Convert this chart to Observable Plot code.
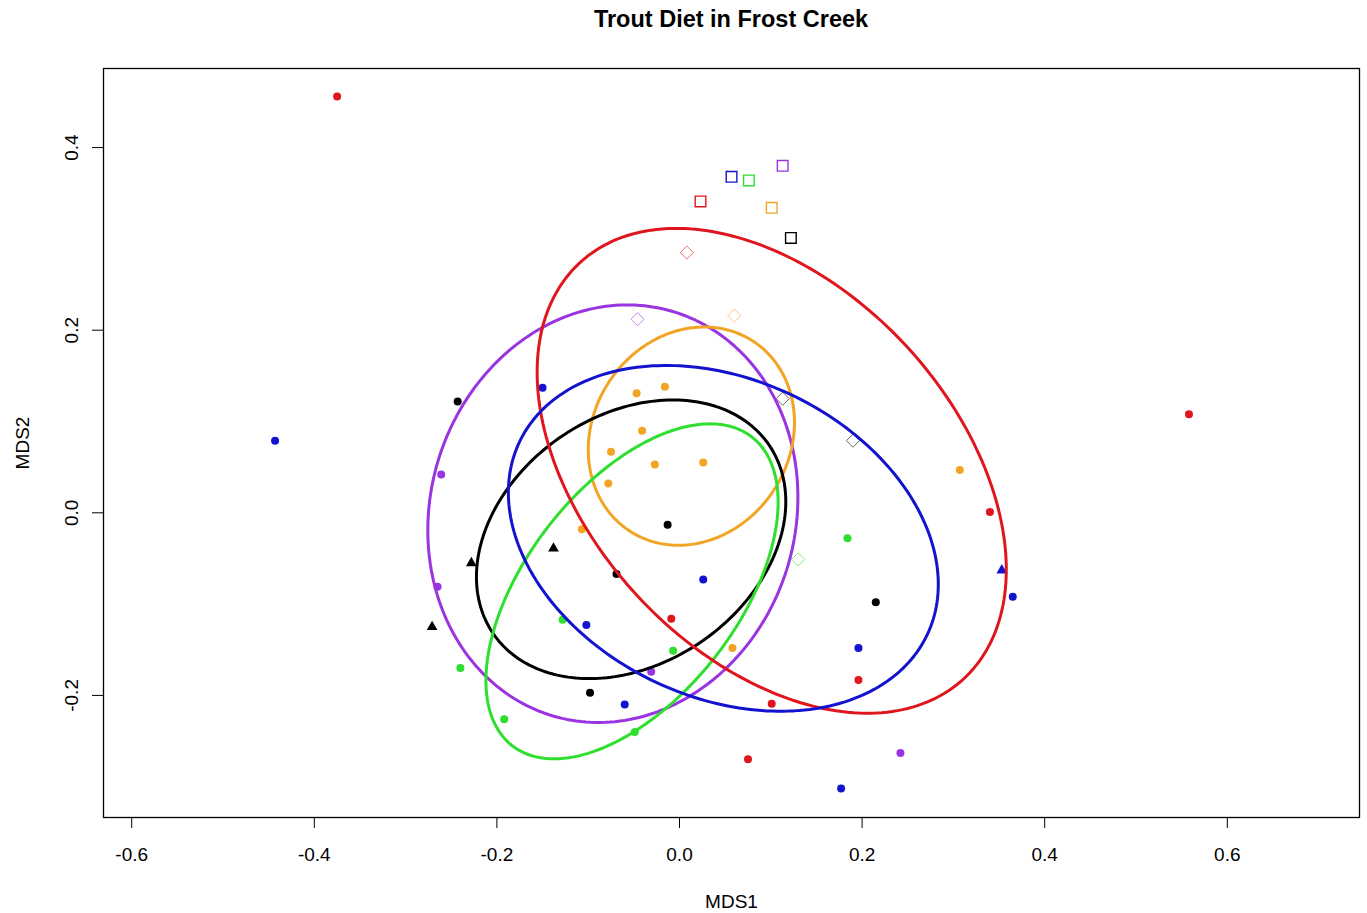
<!DOCTYPE html>
<html><head><meta charset="utf-8">
<script src="https://cdn.jsdelivr.net/npm/d3@7"></script>
<script src="https://cdn.jsdelivr.net/npm/@observablehq/plot@0.6"></script>
<style>
body{margin:0;background:#fff;}
#wrap{position:relative;width:1367px;height:913px;background:#fff;}
#title{position:absolute;left:103px;width:1256px;top:8px;text-align:center;font:bold 23.5px/1 "Liberation Sans",Arial,sans-serif;color:#000;}
</style></head><body>
<div id="wrap"><div id="chart"></div><div id="title">Trout Diet in Frost Creek</div></div>
<script>
const groupNames = ["G1","G2","G3","G4","G5","G6"];
const groupColors = ["#e0161e","#1212cf","#2edf2e","#9a34e0","#f2a424","#000000"];

const xTicks = [-0.6,-0.4,-0.2,0,0.2,0.4,0.6];
const xTickLabels = ["-0.6","-0.4","-0.2","0.0","0.2","0.4","0.6"];
const yTicks = [-0.2,0,0.2,0.4];
const yTickLabels = ["-0.2","0.0","0.2","0.4"];

// sample scores (filled symbols)
const sampleX = [
  -0.375, 0.558, 0.340, -0.009, 0.196, 0.101, 0.075,
  -0.443, -0.150, 0.026, -0.102, -0.060, 0.196, 0.365, 0.177, 0.353,
  0.184, -0.128, -0.007, -0.240, -0.192, -0.049,
  -0.261, -0.265, -0.031, 0.242,
  -0.016, -0.047, -0.041, -0.075, -0.027, 0.026, -0.078, -0.107, 0.058, 0.307,
  -0.243, -0.013, -0.069, 0.215, -0.098, -0.228, -0.138, -0.271
];
const sampleY = [
  0.456, 0.108, 0.001, -0.116, -0.183, -0.209, -0.270,
  0.079, 0.137, -0.073, -0.123, -0.210, -0.148, -0.092, -0.302, -0.063,
  -0.028, -0.117, -0.151, -0.170, -0.226, -0.240,
  0.042, -0.081, -0.174, -0.263,
  0.138, 0.131, 0.090, 0.067, 0.053, 0.055, 0.032, -0.018, -0.148, 0.047,
  0.122, -0.013, -0.067, -0.098, -0.197, -0.055, -0.039, -0.125
];
const sampleGroup = [
  "G1","G1","G1","G1","G1","G1","G1",
  "G2","G2","G2","G2","G2","G2","G2","G2","G2",
  "G3","G3","G3","G3","G3","G3",
  "G4","G4","G4","G4",
  "G5","G5","G5","G5","G5","G5","G5","G5","G5","G5",
  "G6","G6","G6","G6","G6","G6","G6","G6"
];
const sampleShape = [
  "circle","circle","circle","circle","circle","circle","circle",
  "circle","circle","circle","circle","circle","circle","circle","circle","triangle",
  "circle","circle","circle","circle","circle","circle",
  "circle","circle","circle","circle",
  "circle","circle","circle","circle","circle","circle","circle","circle","circle","circle",
  "circle","circle","circle","circle","circle","triangle","triangle","triangle"
];

// open squares
const squareX = [0.023, 0.057, 0.076, 0.113, 0.101, 0.122];
const squareY = [0.341, 0.368, 0.364, 0.380, 0.334, 0.301];
const squareGroup = ["G1","G2","G3","G4","G5","G6"];

// open diamonds
const diamondX = [0.008, -0.046, 0.060, 0.113, 0.190, 0.130];
const diamondY = [0.285, 0.212, 0.216, 0.125, 0.079, -0.051];
const diamondGroup = ["G1","G4","G5","G6","G6","G3"];

// ellipse parameters (centre, semi-axes, rotation in degrees)
const ellGroup = ["G4","G5","G6","G3","G1","G2"];
const ellCx = [-0.073, 0.013, -0.053, -0.052, 0.101, 0.048];
const ellCy = [-0.001, 0.084, -0.029, -0.086, 0.046, -0.028];
const ellA  = [0.231, 0.124, 0.183, 0.214, 0.310, 0.247];
const ellB  = [0.200, 0.108, 0.136, 0.116, 0.201, 0.174];
const ellAngle = [73.5, 57.2, 34.4, 52.2, -47.3, -25.2];

const samples = sampleX.map((x, i) => ({x, y: sampleY[i], group: sampleGroup[i], shape: sampleShape[i]}));
const squares = squareX.map((x, i) => ({x, y: squareY[i], group: squareGroup[i]}));
const diamonds = diamondX.map((x, i) => ({x, y: diamondY[i], group: diamondGroup[i]}));
const ellipsePts = [];
ellGroup.forEach((g, k) => {
  const phi = ellAngle[k] * Math.PI / 180;
  for (let j = 0; j < 240; j++) {
    const t = j / 240 * 2 * Math.PI;
    const ux = ellA[k] * Math.cos(t), uy = ellB[k] * Math.sin(t);
    ellipsePts.push({group: g, x: ellCx[k] + ux * Math.cos(phi) - uy * Math.sin(phi), y: ellCy[k] + ux * Math.sin(phi) + uy * Math.cos(phi)});
  }
});

const chart = Plot.plot({
  width: 1367, height: 913,
  marginLeft: 103, marginRight: 8, marginTop: 68, marginBottom: 96,
  style: {fontFamily: '"Liberation Sans", Arial, sans-serif', fontSize: "19px", background: "#fff", color: "#000"},
  x: {domain: [-0.6309, 0.7448]},
  y: {domain: [-0.3337, 0.4866]},
  color: {type: "ordinal", domain: groupNames, range: groupColors},
  marks: [
    Plot.frame({stroke: "#000", strokeWidth: 1.3}),
    Plot.axisX({ticks: xTicks, tickSize: 11, tickPadding: 19, tickFormat: d => xTickLabels[xTicks.indexOf(d)], label: "MDS1", labelAnchor: "center", labelOffset: 90, labelArrow: "none"}),
    Plot.axisY({ticks: yTicks, tickSize: 11, tickPadding: 15, tickRotate: -90, tickFormat: d => yTickLabels[yTicks.indexOf(d)], label: "MDS2", labelAnchor: "center", labelOffset: 88, labelArrow: "none"}),
    Plot.dot(samples.filter(d => d.shape === "circle"), {x: "x", y: "y", fill: "group", r: 4, symbol: "circle"}),
    Plot.dot(samples.filter(d => d.shape === "triangle"), {x: "x", y: "y", fill: "group", r: 4, symbol: "triangle"}),
    Plot.dot(squares, {x: "x", y: "y", stroke: "group", fill: "none", symbol: "square", r: 6, strokeWidth: 1.4}),
    Plot.dot(diamonds, {x: "x", y: "y", stroke: "group", fill: "none", symbol: "diamond2", r: 5.9, strokeWidth: 1, strokeOpacity: 0.6}),
    Plot.line(ellipsePts, {x: "x", y: "y", z: "group", stroke: "group", strokeWidth: 3, curve: "linear-closed"})
  ]
});
document.getElementById("chart").appendChild(chart);
</script>
</body></html>
